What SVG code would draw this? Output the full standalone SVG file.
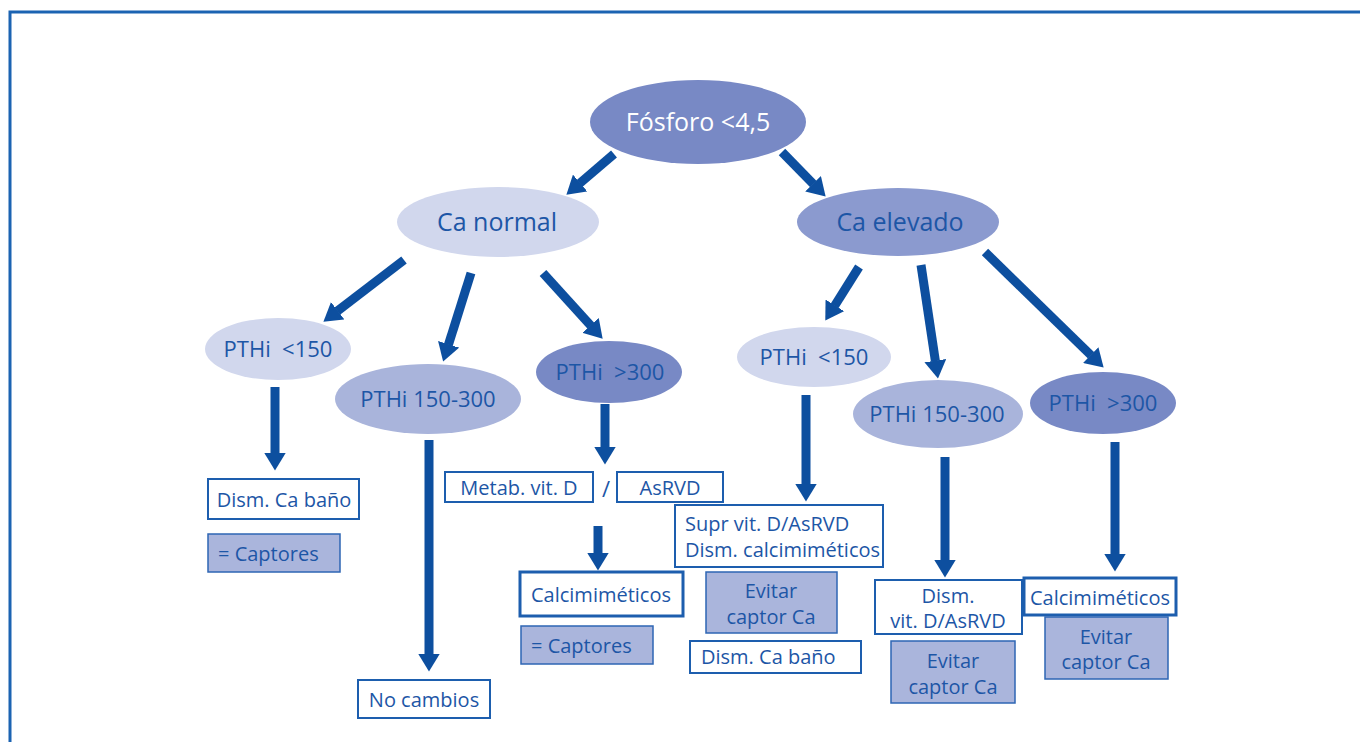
<svg xmlns="http://www.w3.org/2000/svg" width="1360" height="742" viewBox="0 0 1360 742">
<style>
  .t { font-family: "Open Sans", "Liberation Sans", sans-serif; fill: #1d56a6; white-space: pre; }
  .e { font-size: 22px; text-anchor: middle; }
  .b { font-size: 20px; }
  .m { text-anchor: middle; }
  .box { fill: #ffffff; stroke: #1d5eae; stroke-width: 2; }
  .boxb { fill: #ffffff; stroke: #1d5eae; stroke-width: 3; }
  .fill { fill: #aab5dc; stroke: #2e66b4; stroke-width: 1.5; }
  .light { fill: #d1d7ed; }
  .mid { fill: #a9b4db; }
  .cael { fill: #8b9acf; }
  .dark { fill: #7889c5; }
  .arr { stroke: #0d4f9f; stroke-width: 9; fill: none; marker-end: url(#head); }
</style>
<defs>
  <marker id="head" markerUnits="userSpaceOnUse" viewBox="0 0 18 22" markerWidth="18" markerHeight="22" refX="0.5" refY="11" orient="auto">
    <path d="M0,0 L18,11 L0,22 Z" fill="#0d4f9f"/>
  </marker>
</defs>
<rect x="0" y="0" width="1360" height="742" fill="#ffffff"/>
<path d="M10,742 V12 H1360" fill="none" stroke="#1b63b2" stroke-width="3"/>

<g id="connectors">
  <line class="arr" x1="614" y1="154" x2="579.7" y2="183.3"/>
  <line class="arr" x1="782" y1="152" x2="813.4" y2="184.1"/>
  <line class="arr" x1="404" y1="260" x2="337.3" y2="311.1"/>
  <line class="arr" x1="471" y1="273" x2="448.4" y2="344.8"/>
  <line class="arr" x1="543" y1="273" x2="590.9" y2="325.7"/>
  <line class="arr" x1="859" y1="267" x2="834.6" y2="305.8"/>
  <line class="arr" x1="921" y1="265" x2="935.4" y2="361.2"/>
  <line class="arr" x1="985" y1="252" x2="1091.1" y2="355.4"/>
  <line class="arr" x1="275" y1="387" x2="275" y2="453"/>
  <line class="arr" x1="429" y1="440" x2="429" y2="654"/>
  <line class="arr" x1="605" y1="404" x2="605" y2="447"/>
  <line class="arr" x1="598" y1="526" x2="598" y2="553"/>
  <line class="arr" x1="806" y1="395" x2="806" y2="484"/>
  <line class="arr" x1="945" y1="457" x2="945" y2="560"/>
  <line class="arr" x1="1115" y1="442" x2="1115" y2="554"/>
</g>

<g id="n-fosforo">
  <ellipse class="dark" cx="698" cy="122" rx="108" ry="42"/>
  <text class="t" x="698" y="131" font-size="25" text-anchor="middle" style="fill:#ffffff">Fósforo &lt;4,5</text>
</g>
<g id="n-canormal">
  <ellipse class="light" cx="498" cy="222" rx="101" ry="35"/>
  <text class="t" x="497" y="231" font-size="25" text-anchor="middle">Ca normal</text>
</g>
<g id="n-caelevado">
  <ellipse class="cael" cx="898" cy="222" rx="101" ry="34"/>
  <text class="t" x="900" y="231" font-size="25" text-anchor="middle">Ca elevado</text>
</g>
<g id="n-pth150-l">
  <ellipse class="light" cx="278" cy="349" rx="73" ry="31"/>
  <text class="t e" x="278" y="357" xml:space="preserve">PTHi  &lt;150</text>
</g>
<g id="n-pth150300-l">
  <ellipse class="mid" cx="428" cy="399" rx="93" ry="35"/>
  <text class="t e" x="428" y="407">PTHi 150-300</text>
</g>
<g id="n-pth300-l">
  <ellipse class="dark" cx="609" cy="372" rx="73" ry="31"/>
  <text class="t e" x="610" y="380" xml:space="preserve">PTHi  &gt;300</text>
</g>
<g id="n-pth150-r">
  <ellipse class="light" cx="814" cy="357" rx="77" ry="30"/>
  <text class="t e" x="814" y="365" xml:space="preserve">PTHi  &lt;150</text>
</g>
<g id="n-pth150300-r">
  <ellipse class="mid" cx="938" cy="414" rx="85" ry="34"/>
  <text class="t e" x="937" y="422">PTHi 150-300</text>
</g>
<g id="n-pth300-r">
  <ellipse class="dark" cx="1103" cy="403" rx="73" ry="31"/>
  <text class="t e" x="1103" y="411" xml:space="preserve">PTHi  &gt;300</text>
</g>

<g id="b-dismcabano-l">
  <rect class="box" x="208" y="479" width="151" height="40"/>
  <text class="t b m" x="284" y="507">Dism. Ca baño</text>
</g>
<g id="b-captores-l">
  <rect class="fill" x="208" y="534" width="132" height="38"/>
  <text class="t b" x="218" y="561">= Captores</text>
</g>
<g id="b-nocambios">
  <rect class="box" x="358" y="680" width="132" height="38"/>
  <text class="t b m" x="424" y="707">No cambios</text>
</g>
<g id="b-metab">
  <rect class="box" x="445" y="472" width="148" height="30"/>
  <text class="t b m" x="519" y="495">Metab. vit. D</text>
</g>
<text class="t" x="606" y="497" font-size="22" text-anchor="middle">/</text>
<g id="b-asrvd">
  <rect class="box" x="617" y="472" width="106" height="30"/>
  <text class="t b m" x="670" y="495">AsRVD</text>
</g>
<g id="b-calci-l">
  <rect class="boxb" x="520" y="572" width="163" height="44"/>
  <text class="t b m" x="601" y="602">Calcimiméticos</text>
</g>
<g id="b-captores-m">
  <rect class="fill" x="521" y="626" width="132" height="38"/>
  <text class="t b" x="531" y="653">= Captores</text>
</g>
<g id="b-supr">
  <rect class="box" x="675" y="505" width="208" height="62"/>
  <text class="t b" x="685" y="531">Supr vit. D/AsRVD</text>
  <text class="t b" x="685" y="557">Dism. calcimiméticos</text>
</g>
<g id="b-evitar1">
  <rect class="fill" x="706" y="572" width="131" height="61"/>
  <text class="t b m" x="771" y="598">Evitar</text>
  <text class="t b m" x="771" y="624">captor Ca</text>
</g>
<g id="b-dismcabano-r">
  <rect class="box" x="690" y="641" width="171" height="32"/>
  <text class="t b" x="701" y="664">Dism. Ca baño</text>
</g>
<g id="b-dismvitd">
  <rect class="box" x="875" y="580" width="147" height="54"/>
  <text class="t b m" x="948" y="603">Dism.</text>
  <text class="t b m" x="948" y="628">vit. D/AsRVD</text>
</g>
<g id="b-evitar2">
  <rect class="fill" x="891" y="641" width="124" height="62"/>
  <text class="t b m" x="953" y="668">Evitar</text>
  <text class="t b m" x="953" y="694">captor Ca</text>
</g>
<g id="b-calci-r">
  <rect class="boxb" x="1024" y="578" width="152" height="37"/>
  <text class="t b m" x="1100" y="605">Calcimiméticos</text>
</g>
<g id="b-evitar3">
  <rect class="fill" x="1045" y="617" width="123" height="62"/>
  <text class="t b m" x="1106" y="644">Evitar</text>
  <text class="t b m" x="1106" y="669">captor Ca</text>
</g>
</svg>
